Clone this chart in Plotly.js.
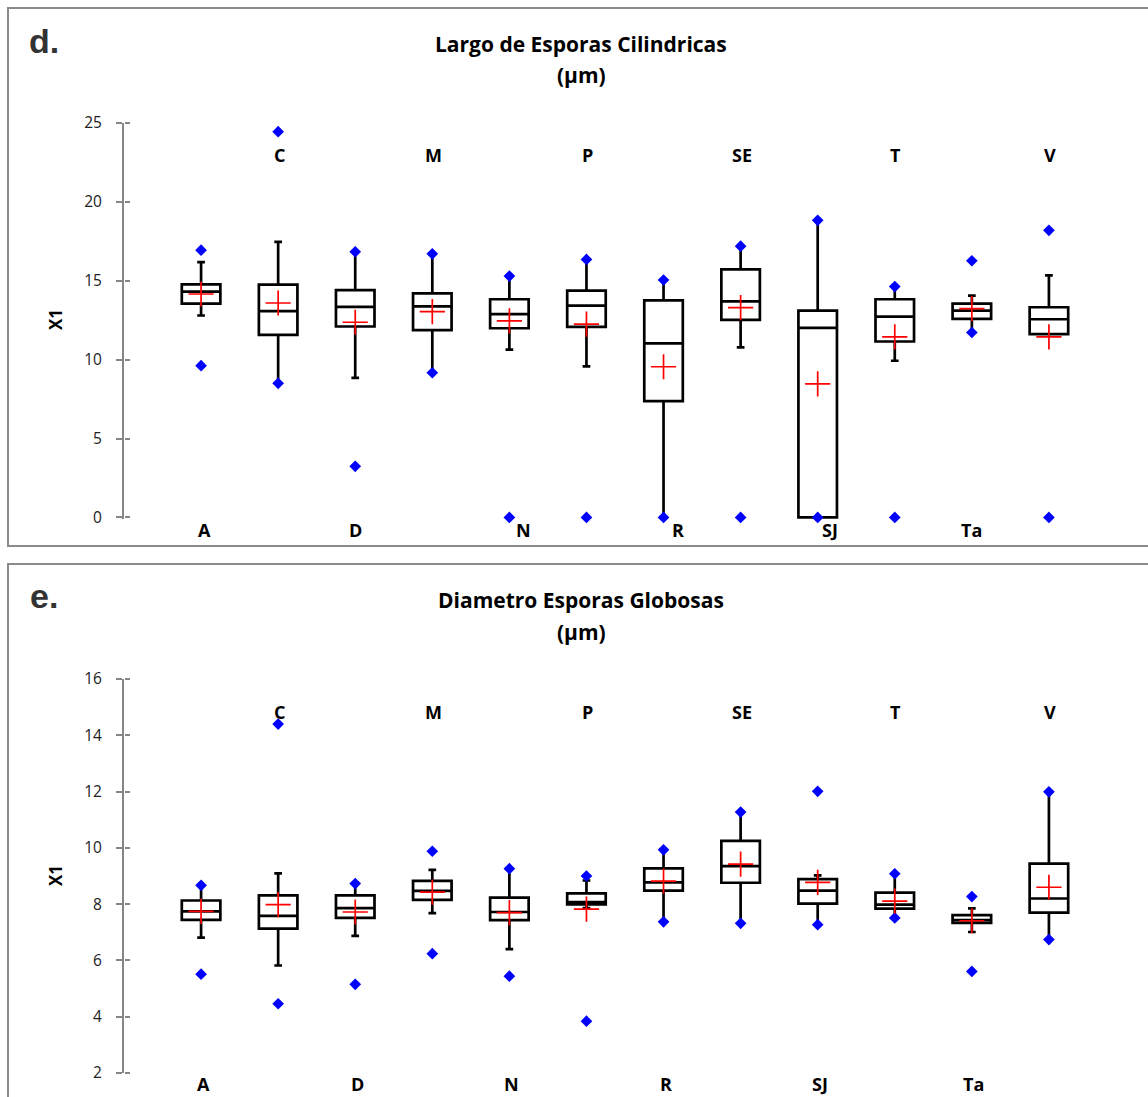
<!DOCTYPE html>
<html>
<head>
<meta charset="utf-8">
<script src="https://cdn.plot.ly/plotly-3.0.1.min.js"></script>
<style>html,body{margin:0;padding:0;background:#fff;}#chart{width:1148px;height:1097px;}</style>
</head>
<body>
<div id="chart"></div>
<script>
// ---------- DATA ----------
const categories = ['A','C','D','M','N','P','R','SE','SJ','T','Ta','V'];

// Panel d: Largo de Esporas Cilindricas (µm)
const d_min    = [9.62, 8.50, 3.24, 9.17, 0,     0,     0,     0,     0,     0,     11.72, 0];
const d_max    = [16.94,24.45,16.84,16.71,15.30, 16.35, 15.05, 17.19, 18.83, 14.63, 16.27, 18.20];
const d_lowW   = [12.80,8.50, 8.84, 9.17, 10.63, 9.57,  0,     10.78, 0,     9.93,  11.72, 11.62];
const d_highW  = [16.18,17.47,16.84,16.71,15.30, 16.35, 15.05, 17.19, 18.83, 14.63, 14.06, 15.34];
const d_q1     = [13.55,11.57,12.10,11.87,11.99, 12.08, 7.37,  12.52, 0,     11.15, 12.58, 11.62];
const d_median = [14.31,13.07,13.34,13.38,12.88, 13.43, 11.03, 13.70, 12.02, 12.73, 13.11, 12.56];
const d_q3     = [14.77,14.75,14.41,14.20,13.83, 14.37, 13.76, 15.72, 13.11, 13.83, 13.55, 13.32];
const d_mean   = [14.16,13.59,12.37,13.05,12.46, 12.25, 9.55,  13.30, 8.46,  11.45, 13.24, 11.45];

// Panel e: Diametro Esporas Globosas (µm)
const e_min    = [5.51, 4.46, 5.15, 6.24, 5.44, 3.84, 7.37, 7.32,  7.27,  7.51, 5.61, 6.74];
const e_max    = [8.67, 14.40,8.73, 9.88, 9.26, 9.00, 9.93, 11.27, 12.01, 9.08, 8.27, 11.99];
const e_lowW   = [6.81, 5.82, 6.87, 7.68, 6.40, 7.86, 7.37, 7.32,  7.27,  7.51, 7.01, 6.74];
const e_highW  = [8.67, 9.09, 8.73, 9.22, 9.26, 8.84, 9.93, 11.27, 9.02,  9.08, 7.85, 11.99];
const e_q1     = [7.44, 7.13, 7.51, 8.15, 7.43, 7.99, 8.48, 8.76,  8.02,  7.84, 7.33, 7.70];
const e_median = [7.74, 7.58, 7.86, 8.47, 7.72, 8.07, 8.77, 9.35,  8.48,  7.98, 7.43, 8.20];
const e_q3     = [8.13, 8.31, 8.31, 8.83, 8.23, 8.38, 9.27, 10.25, 8.89,  8.41, 7.61, 9.44];
const e_mean   = [7.74, 7.98, 7.72, 8.43, 7.70, 7.82, 8.82, 9.42,  8.77,  8.11, 7.41, 8.60];

const titleD = ['Largo de Esporas Cilindricas', '(µm)'];
const titleE = ['Diametro Esporas Globosas', '(µm)'];
const yTitle = 'X1';

// ---------- LAYOUT HELPERS ----------
const W = 1148, H = 1097;
const px = x => x / W;
const py = y => 1 - y / H;
const idx = categories.map((c, i) => i);
const FONT = 'Open Sans, Liberation Sans, sans-serif';

function panelTraces(xa, ya, q1, med, q3, lo, hi, mn, mx, mean) {
  return [
    {
      type: 'box', x: idx, q1: q1, median: med, q3: q3,
      lowerfence: lo, upperfence: hi,
      xaxis: xa, yaxis: ya, width: 0.5, whiskerwidth: 0.2,
      boxpoints: false, fillcolor: '#ffffff',
      line: {color: '#000000', width: 2.7},
      hoverinfo: 'skip', showlegend: false
    },
    {
      type: 'scatter', mode: 'markers', xaxis: xa, yaxis: ya,
      x: idx.concat(idx), y: mn.concat(mx), cliponaxis: false,
      marker: {symbol: 'diamond', size: 9, color: '#0000ff'},
      hoverinfo: 'skip', showlegend: false
    },
    {
      type: 'scatter', mode: 'markers', xaxis: xa, yaxis: ya,
      x: idx, y: mean, cliponaxis: false,
      marker: {symbol: 'cross-thin', size: 18, color: '#ff0000', line: {color: '#ff0000', width: 1.7}},
      hoverinfo: 'skip', showlegend: false
    }
  ];
}

const traces = []
  .concat(panelTraces('x', 'y', d_q1, d_median, d_q3, d_lowW, d_highW, d_min, d_max, d_mean))
  .concat(panelTraces('x2', 'y2', e_q1, e_median, e_q3, e_lowW, e_highW, e_min, e_max, e_mean));
// invisible helper traces so that the overlay (cross-tick) axes render
traces.push({type: 'scatter', mode: 'markers', x: [0], y: [10], xaxis: 'x', yaxis: 'y3',
             marker: {opacity: 0}, showlegend: false, hoverinfo: 'skip'});
traces.push({type: 'scatter', mode: 'markers', x: [0], y: [8], xaxis: 'x2', yaxis: 'y4',
             marker: {opacity: 0}, showlegend: false, hoverinfo: 'skip'});

const xDom = [px(124), px(1126)];
const yDomD = [py(519), py(123)];
const yDomE = [py(1073), py(679)];

function xAxis() {
  return {domain: xDom, range: [-1, 12], showline: false, showgrid: false, zeroline: false,
          showticklabels: false, ticks: '', fixedrange: true};
}
function yAxis(dom, rng, dtick, xa) {
  return {domain: dom, range: rng, anchor: xa, dtick: dtick, tick0: 0,
          showline: true, linecolor: '#868686', linewidth: 2,
          ticks: 'outside', ticklen: 6, tickwidth: 2, tickcolor: '#868686',
          ticklabelstandoff: 11,
          showgrid: false, zeroline: false,
          tickfont: {family: FONT, size: 15.5, color: '#222'}, fixedrange: true};
}
// second axis on the right side of the same line, giving "cross" tick marks
function yOverlay(dom, rng, dtick, ov) {
  return {domain: dom, range: rng, anchor: 'free', position: xDom[0], overlaying: ov, side: 'right',
          dtick: dtick, tick0: 0,
          showline: false, ticks: 'outside', ticklen: 5, tickwidth: 2, tickcolor: '#868686',
          showticklabels: false, showgrid: false, zeroline: false, fixedrange: true};
}

const annotations = [];
function addText(text, x, y, size, opts) {
  annotations.push(Object.assign({
    text: text, x: x, y: y, xref: 'paper', yref: 'paper', showarrow: false,
    xanchor: 'center', yanchor: 'middle',
    font: {family: FONT, size: size, color: '#000'}
  }, opts || {}));
}

const letterFont = {family: 'Liberation Sans, Arial, sans-serif', size: 34, color: '#333'};
addText('<b>d.</b>', px(44), py(41), 34, {font: letterFont});
addText('<b>e.</b>', px(44), py(596), 34, {font: letterFont});
// titles
addText('<b>' + titleD[0] + '</b>', px(581), py(44), 21);
addText('<b>' + titleD[1] + '</b>', px(581), py(75), 21);
addText('<b>' + titleE[0] + '</b>', px(581), py(600), 21);
addText('<b>' + titleE[1] + '</b>', px(581), py(632), 21);
// y-axis titles
addText('<b>' + yTitle + '</b>', px(55), py(320), 17, {textangle: -90});
addText('<b>' + yTitle + '</b>', px(55), py(876), 17, {textangle: -90});

// category labels (alternating bottom / top)
const shiftD = {0: 3, 4: 14, 6: 14, 8: 12};
categories.forEach((c, i) => {
  const bottom = i % 2 === 0;
  annotations.push({
    text: '<b>' + c + '</b>', x: i, xref: 'x', yref: 'paper',
    y: bottom ? py(530) : py(155), showarrow: false, xanchor: 'center', yanchor: 'middle',
    xshift: bottom ? (shiftD[i] || 0) : 1,
    font: {family: FONT, size: 18, color: '#000'}
  });
  annotations.push({
    text: '<b>' + c + '</b>', x: i, xref: 'x2', yref: 'paper',
    y: bottom ? py(1084) : py(712), showarrow: false, xanchor: 'center', yanchor: 'middle',
    xshift: bottom ? 2 : 1,
    font: {family: FONT, size: 18, color: '#000'}
  });
});

const shapes = [
  {type: 'rect', xref: 'paper', yref: 'paper', x0: px(8), x1: px(1152), y0: py(546), y1: py(8),
   line: {color: '#8a8a8a', width: 2}, fillcolor: 'rgba(0,0,0,0)', layer: 'below'},
  {type: 'rect', xref: 'paper', yref: 'paper', x0: px(8), x1: px(1152), y0: py(1102), y1: py(564),
   line: {color: '#8a8a8a', width: 2}, fillcolor: 'rgba(0,0,0,0)', layer: 'below'}
];

const layout = {
  width: W, height: H,
  margin: {l: 0, r: 0, t: 0, b: 0, pad: 0},
  paper_bgcolor: '#ffffff', plot_bgcolor: 'rgba(0,0,0,0)',
  showlegend: false, hovermode: false,
  xaxis: Object.assign(xAxis(), {anchor: 'y'}),
  xaxis2: Object.assign(xAxis(), {anchor: 'y2'}),
  yaxis: yAxis(yDomD, [-0.1, 25], 5, 'x'),
  yaxis2: yAxis(yDomE, [2, 16], 2, 'x2'),
  yaxis3: yOverlay(yDomD, [-0.1, 25], 5, 'y'),
  yaxis4: yOverlay(yDomE, [2, 16], 2, 'y2'),
  annotations: annotations,
  shapes: shapes
};

Plotly.newPlot('chart', traces, layout, {staticPlot: true, displayModeBar: false});
</script>
</body>
</html>
